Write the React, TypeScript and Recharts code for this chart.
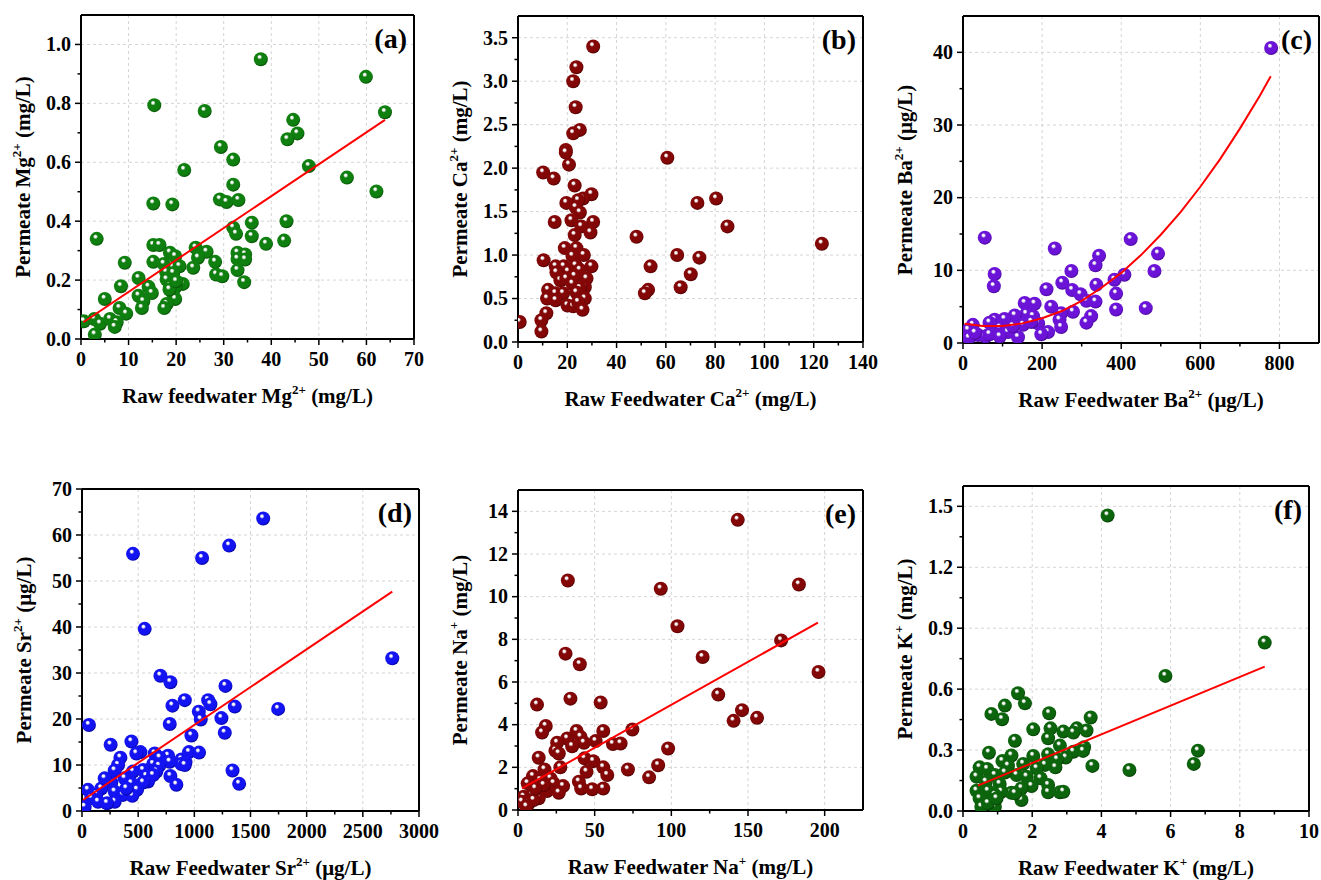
import React from 'react';
import { ScatterChart, Scatter, XAxis, YAxis, CartesianGrid, ReferenceLine } from 'recharts';

// (a) Mg2+
const mgFeed = [37.8, 59.9, 63.9, 15.4, 26.0, 44.6, 45.5, 43.4, 29.4, 32.0, 47.9, 21.7, 55.9, 32.0, 62.1, 29.2, 30.6, 33.1, 15.2, 19.2, 43.2, 35.9, 32.0, 32.6, 35.9, 38.9, 42.7, 3.3, 15.2, 16.5, 24.1, 26.4, 18.7, 19.8, 24.6, 32.9, 34.5, 32.9, 34.5, 28.2, 15.2, 9.2, 17.4, 23.6, 20.7, 17.9, 19.4, 32.9, 28.4, 29.7, 12.1, 18.0, 34.3, 21.4, 8.4, 14.2, 18.7, 19.9, 14.9, 12.1, 13.1, 19.3, 19.8, 5.0, 18.0, 17.5, 12.8, 8.1, 9.5, 0.6, 2.8, 4.0, 6.1, 7.5, 7.1, 2.9, 18.6, 20.0];
const mgPerm = [0.95, 0.89, 0.77, 0.794, 0.774, 0.744, 0.698, 0.678, 0.652, 0.609, 0.587, 0.574, 0.548, 0.524, 0.501, 0.474, 0.465, 0.472, 0.46, 0.457, 0.4, 0.395, 0.378, 0.357, 0.349, 0.323, 0.334, 0.34, 0.319, 0.319, 0.31, 0.296, 0.293, 0.281, 0.276, 0.293, 0.287, 0.272, 0.27, 0.262, 0.262, 0.259, 0.255, 0.242, 0.247, 0.227, 0.224, 0.234, 0.219, 0.213, 0.207, 0.202, 0.193, 0.187, 0.179, 0.177, 0.179, 0.177, 0.156, 0.147, 0.128, 0.156, 0.136, 0.136, 0.119, 0.105, 0.105, 0.105, 0.086, 0.06, 0.068, 0.052, 0.068, 0.057, 0.041, 0.015, 0.168, 0.196];
const mgFitX = [0.5, 63.9];
const mgFitY = [0.057, 0.744];

// (b) Ca2+
const caFeed = [30.5, 23.7, 22.4, 23.4, 25.1, 22.4, 19.4, 19.4, 20.7, 60.6, 10.2, 14.5, 23.0, 29.8, 26.4, 24.4, 80.4, 72.8, 19.6, 23.4, 25.1, 14.9, 21.7, 30.5, 25.7, 85.0, 29.4, 23.0, 48.1, 123.3, 19.0, 23.7, 22.1, 26.7, 64.6, 10.4, 73.6, 15.3, 18.6, 23.4, 29.8, 53.8, 20.3, 25.1, 15.6, 17.2, 19.6, 23.0, 27.8, 70.1, 22.1, 27.1, 25.1, 66.0, 12.2, 52.8, 51.5, 15.2, 18.3, 23.7, 11.8, 15.3, 27.1, 20.1, 22.4, 24.4, 26.2, 0.7, 11.5, 9.5, 9.5];
const caPerm = [3.4, 3.16, 3.0, 2.7, 2.44, 2.4, 2.21, 2.18, 2.04, 2.12, 1.95, 1.88, 1.8, 1.7, 1.65, 1.63, 1.65, 1.6, 1.6, 1.55, 1.49, 1.38, 1.4, 1.38, 1.33, 1.33, 1.26, 1.23, 1.21, 1.13, 1.08, 1.08, 0.99, 1.0, 1.0, 0.94, 0.97, 0.87, 0.87, 0.88, 0.87, 0.87, 0.81, 0.83, 0.8, 0.71, 0.73, 0.76, 0.73, 0.78, 0.67, 0.63, 0.62, 0.63, 0.6, 0.6, 0.56, 0.56, 0.56, 0.57, 0.5, 0.48, 0.5, 0.42, 0.41, 0.46, 0.37, 0.23, 0.33, 0.25, 0.12];

// (c) Ba2+
const baFeed = [779, 55, 424, 232, 493, 344, 335, 80, 274, 484, 408, 383, 251, 337, 78, 211, 276, 297, 387, 156, 181, 312, 335, 462, 223, 387, 278, 248, 160, 177, 324, 131, 80, 105, 25, 67, 244, 312, 190, 152, 93, 248, 215, 198, 114, 13, 38, 57, 15, 139, 67, 126, 93, 173, 30];
const baPerm = [40.6, 14.5, 14.3, 13.0, 12.3, 12.0, 10.7, 9.5, 9.9, 9.9, 9.4, 8.7, 8.3, 8.0, 7.8, 7.4, 7.3, 6.7, 6.8, 5.5, 5.4, 5.8, 5.7, 4.8, 5.0, 4.6, 4.3, 4.1, 4.0, 3.7, 3.7, 3.8, 3.2, 3.3, 2.5, 2.8, 3.2, 2.8, 2.7, 2.5, 2.1, 2.2, 1.5, 1.2, 1.5, 1.8, 1.1, 0.9, 0.7, 0.8, 1.2, 2.3, 0.9, 2.9, 1.4];
const baFitX = [4, 50, 100, 150, 200, 250, 300, 350, 400, 450, 500, 550, 600, 650, 700, 750, 778];
const baFitY = [2.65, 2.35, 2.35, 2.7, 3.4, 4.4, 5.8, 7.6, 9.65, 12.1, 14.9, 18.0, 21.5, 25.3, 29.5, 34.0, 36.7];

// (d) Sr2+
const srFeed = [1613, 1310, 454, 1069, 558, 2762, 698, 787, 1277, 915, 1123, 1143, 805, 1360, 1746, 1040, 1241, 1057, 62, 781, 1271, 974, 440, 255, 520, 484, 647, 953, 1042, 342, 766, 692, 885, 921, 781, 321, 633, 885, 915, 686, 1340, 291, 454, 544, 662, 573, 787, 380, 633, 261, 440, 588, 544, 840, 1399, 172, 53, 291, 490, 365, 448, 128, 83, 291, 143, 24, 223, 395, 202];
const srPerm = [63.6, 57.7, 55.9, 55.0, 39.6, 33.2, 29.4, 28.0, 27.2, 24.1, 24.1, 23.2, 22.9, 22.7, 22.2, 21.6, 20.2, 19.9, 18.7, 18.9, 17.0, 16.4, 15.1, 14.4, 12.8, 12.5, 12.5, 12.8, 12.7, 11.6, 12.0, 11.6, 11.2, 10.6, 10.7, 10.0, 10.2, 10.2, 10.0, 9.8, 8.8, 8.8, 8.6, 8.9, 8.6, 7.6, 7.6, 7.1, 7.8, 6.2, 6.0, 6.4, 6.2, 5.7, 5.9, 4.9, 4.6, 4.2, 4.6, 3.5, 3.3, 3.6, 2.8, 2.0, 2.0, 0.9, 1.7, 4.9, 7.1];
const srFitX = [9, 2762];
const srFitY = [2.4, 47.7];

// (e) Na+
const naFeed = [143.3, 32.5, 93.1, 183.2, 104.0, 171.6, 31.0, 120.4, 40.3, 196.0, 130.6, 34.2, 12.4, 53.9, 146.1, 155.9, 140.6, 18.1, 15.7, 74.6, 38.2, 55.6, 32.1, 25.5, 40.8, 43.0, 50.6, 35.3, 61.9, 66.9, 97.9, 24.4, 26.6, 13.5, 43.4, 49.1, 55.6, 91.4, 71.7, 27.6, 17.3, 44.7, 58.2, 85.5, 9.8, 21.2, 39.7, 14.6, 6.3, 23.3, 29.4, 41.2, 48.4, 55.6, 14.6, 19.0, 26.6, 9.2, 3.7, 13.5, 2.6, 7.0, 10.2, 16.8, 11.3, 5.5];
const naPerm = [13.6, 10.76, 10.37, 10.57, 8.61, 7.95, 7.33, 7.17, 6.83, 6.47, 5.41, 5.22, 4.94, 5.04, 4.68, 4.32, 4.18, 3.94, 3.63, 3.77, 3.7, 3.7, 3.35, 3.15, 3.43, 3.15, 3.23, 2.99, 3.09, 3.12, 2.88, 2.78, 2.65, 2.45, 2.42, 2.29, 2.0, 2.1, 1.9, 2.0, 1.9, 1.79, 1.64, 1.53, 1.59, 1.48, 1.33, 1.4, 1.25, 1.25, 1.12, 1.01, 0.97, 1.01, 1.04, 0.89, 0.81, 0.73, 0.62, 0.55, 0.39, 0.31, 0.47, 1.17, 1.01, 0.16];
const naFitX = [2.6, 195.6];
const naFitY = [1.01, 8.78];

// (f) K+
const kFeed = [4.18, 8.72, 5.85, 1.59, 1.79, 1.21, 0.82, 2.49, 1.13, 3.69, 2.03, 2.53, 2.9, 3.29, 3.19, 3.57, 1.5, 2.46, 2.8, 0.75, 3.5, 6.79, 1.4, 2.03, 2.46, 3.19, 3.47, 2.97, 1.14, 2.72, 6.67, 3.74, 4.81, 1.74, 1.3, 0.48, 0.7, 2.37, 2.67, 2.13, 0.39, 0.92, 1.55, 1.84, 1.21, 2.24, 0.66, 1.06, 1.98, 2.46, 0.39, 0.72, 1.11, 1.4, 1.69, 2.46, 2.8, 2.9, 0.48, 0.92, 1.69, 0.53, 0.92, 0.72, 0.97, 1.5];
const kPerm = [1.455, 0.829, 0.665, 0.58, 0.53, 0.519, 0.478, 0.481, 0.452, 0.46, 0.402, 0.407, 0.391, 0.407, 0.386, 0.396, 0.346, 0.358, 0.322, 0.287, 0.314, 0.297, 0.273, 0.271, 0.279, 0.292, 0.296, 0.263, 0.246, 0.254, 0.232, 0.222, 0.202, 0.232, 0.223, 0.215, 0.207, 0.227, 0.215, 0.21, 0.169, 0.177, 0.177, 0.169, 0.189, 0.161, 0.144, 0.133, 0.123, 0.128, 0.1, 0.099, 0.095, 0.09, 0.112, 0.092, 0.092, 0.095, 0.062, 0.079, 0.054, 0.021, 0.021, 0.038, 0.062, 0.087];
const kFitX = [0.43, 8.72];
const kFitY = [0.125, 0.711];

// tick values (major / minor)
const mgXTicks = [0, 10, 20, 30, 40, 50, 60, 70];
const mgXMinor = [5, 15, 25, 35, 45, 55, 65];
const mgYTicks = [0, 0.2, 0.4, 0.6, 0.8, 1.0];
const mgYMinor = [0.1, 0.3, 0.5, 0.7, 0.9];
const caXTicks = [0, 20, 40, 60, 80, 100, 120, 140];
const caXMinor = [10, 30, 50, 70, 90, 110, 130];
const caYTicks = [0, 0.5, 1.0, 1.5, 2.0, 2.5, 3.0, 3.5];
const caYMinor = [0.25, 0.75, 1.25, 1.75, 2.25, 2.75, 3.25];
const baXTicks = [0, 200, 400, 600, 800];
const baXMinor = [100, 300, 500, 700];
const baYTicks = [0, 10, 20, 30, 40];
const baYMinor = [5, 15, 25, 35];
const srXTicks = [0, 500, 1000, 1500, 2000, 2500, 3000];
const srXMinor = [250, 750, 1250, 1750, 2250, 2750];
const srYTicks = [0, 10, 20, 30, 40, 50, 60, 70];
const srYMinor = [5, 15, 25, 35, 45, 55, 65];
const naXTicks = [0, 50, 100, 150, 200];
const naXMinor = [25, 75, 125, 175];
const naYTicks = [0, 2, 4, 6, 8, 10, 12, 14];
const naYMinor = [1, 3, 5, 7, 9, 11, 13];
const kXTicks = [0, 2, 4, 6, 8, 10];
const kXMinor = [1, 3, 5, 7, 9];
const kYTicks = [0, 0.3, 0.6, 0.9, 1.2, 1.5];
const kYMinor = [0.15, 0.45, 0.75, 1.05, 1.35];

const pairs = (xs: number[], ys: number[]) => xs.map((x, i) => ({ x, y: ys[i] }));

const FONT = 'Liberation Serif, Times New Roman, serif';
const textStyle = { fontFamily: FONT, fontWeight: 700, fontSize: 20, fill: '#000' };

const isIn = (v: number, arr: number[]) => arr.some((t) => Math.abs(t - v) < 1e-9);

const XTick = ({ x, y, payload, major, fmt }: any) => {
  const big = isIn(payload.value, major);
  return (
    <g>
      <line x1={x} x2={x} y1={y} y2={y + (big ? 6 : 3.5)} stroke="#000" strokeWidth={1.5} />
      {big && (
        <text x={x} y={y + 13} dy="0.72em" textAnchor="middle" style={textStyle}>
          {fmt(payload.value)}
        </text>
      )}
    </g>
  );
};

const YTick = ({ x, y, payload, major, fmt }: any) => {
  const big = isIn(payload.value, major);
  return (
    <g>
      <line x1={x} x2={x - (big ? 6 : 3.5)} y1={y} y2={y} stroke="#000" strokeWidth={1.5} />
      {big && (
        <text x={x - 10} y={y} dy="0.34em" textAnchor="end" style={textStyle}>
          {fmt(payload.value)}
        </text>
      )}
    </g>
  );
};

const sphere = (grad: string) => (p: any) => (
  <circle cx={p.cx} cy={p.cy} r={7} fill={`url(#${grad})`} />
);

const palette: Record<string, [string, string]> = {
  sphA: ['#0f7f0f', '#034803'],
  sphB: ['#840707', '#480000'],
  sphC: ['#6b14d8', '#42068f'],
  sphD: ['#1414f2', '#000090'],
  sphF: ['#0c650c', '#023802'],
};

const fmt1 = (v: number) => v.toFixed(1);
const fmt0 = (v: number) => String(v);

const Sup = ({ children }: any) => (
  <sup style={{ fontSize: '0.62em', verticalAlign: 'top', position: 'relative', top: '-0.25em' }}>{children}</sup>
);

interface PanelProps {
  left: number; top: number; w: number; h: number; right?: number;
  data: { x: number; y: number }[];
  fit?: { x: number; y: number }[];
  xDomain: number[]; yDomain: number[];
  xTicks: number[]; xMinor: number[]; yTicks: number[]; yMinor: number[];
  xFmt: (v: number) => string; yFmt: (v: number) => string;
  grad: string; tag: string; xTitle: React.ReactNode; yTitle: React.ReactNode;
}

const Panel = (p: PanelProps) => {
  const rm = p.right ?? 30;
  const xAll = [...p.xTicks, ...p.xMinor].sort((a, b) => a - b);
  const yAll = [...p.yTicks, ...p.yMinor].sort((a, b) => a - b);
  return (
    <>
      <div style={{ position: 'absolute', left: p.left - 80, top: p.top - 10 }}>
        <ScatterChart width={80 + p.w + rm} height={10 + p.h + 50} margin={{ top: 10, right: rm, bottom: 0, left: 0 }}>
          <CartesianGrid stroke="#d4d4d4" strokeDasharray="3 3" verticalValues={p.xTicks} horizontalValues={p.yTicks} />
          <XAxis
            type="number" dataKey="x" domain={p.xDomain} ticks={xAll} interval={0} allowDataOverflow
            height={50} tickSize={0} tickMargin={0} tickLine={false}
            axisLine={{ stroke: '#000', strokeWidth: 2 }}
            tick={(tp: any) => <XTick {...tp} major={p.xTicks} fmt={p.xFmt} />}
          />
          <YAxis
            type="number" dataKey="y" domain={p.yDomain} ticks={yAll} interval={0} allowDataOverflow
            width={80} tickSize={0} tickMargin={0} tickLine={false}
            axisLine={{ stroke: '#000', strokeWidth: 2 }}
            tick={(tp: any) => <YTick {...tp} major={p.yTicks} fmt={p.yFmt} />}
          />
          <ReferenceLine y={p.yDomain[1]} stroke="#000" strokeWidth={2} />
          <ReferenceLine x={p.xDomain[1]} stroke="#000" strokeWidth={2} />
          <Scatter data={p.data} shape={sphere(p.grad)} isAnimationActive={false} />
          {p.fit && (
            <Scatter data={p.fit} line={{ stroke: '#ff0000', strokeWidth: 2 }} shape={() => <g />} isAnimationActive={false} />
          )}
        </ScatterChart>
      </div>
      <div style={{ position: 'absolute', left: p.left + p.w - 7, top: p.top + 10, transform: 'translateX(-100%)', fontFamily: FONT, fontWeight: 700, fontSize: 28, lineHeight: 1, whiteSpace: 'nowrap' }}>
        {p.tag}
      </div>
      <div style={{ position: 'absolute', left: p.left + p.w / 2, top: p.top + p.h + 57, transform: 'translate(-50%, -50%)', fontFamily: FONT, fontWeight: 700, fontSize: 21, lineHeight: 1, whiteSpace: 'nowrap' }}>
        {p.xTitle}
      </div>
      <div style={{ position: 'absolute', left: p.left - 58, top: p.top + p.h / 2, transform: 'translate(-50%, -50%) rotate(-90deg)', fontFamily: FONT, fontWeight: 700, fontSize: 21, lineHeight: 1, whiteSpace: 'nowrap' }}>
        {p.yTitle}
      </div>
    </>
  );
};

export default function App() {
  return (
    <div style={{ position: 'absolute', left: 0, top: 0, width: 1321, height: 880, background: '#fff', overflow: 'hidden' }}>
      <svg width={0} height={0} style={{ position: 'absolute' }}>
        <defs>
          {Object.entries(palette).map(([id, [base, dark]]) => (
            <radialGradient key={id} id={id} cx="0.45" cy="0.42" r="0.6" fx="0.4" fy="0.32">
              <stop offset="0" stopColor="#ffffff" />
              <stop offset="0.13" stopColor="#f4f4f4" />
              <stop offset="0.3" stopColor={base} />
              <stop offset="0.78" stopColor={base} />
              <stop offset="1" stopColor={dark} />
            </radialGradient>
          ))}
        </defs>
      </svg>

      <Panel left={81} top={15} w={333} h={324} data={pairs(mgFeed, mgPerm)} fit={pairs(mgFitX, mgFitY)}
        xDomain={[0, 70]} yDomain={[0, 1.1]} xTicks={mgXTicks} xMinor={mgXMinor} yTicks={mgYTicks} yMinor={mgYMinor}
        xFmt={fmt0} yFmt={fmt1} grad="sphA" tag="(a)"
        xTitle={<>Raw feedwater Mg<Sup>2+</Sup> (mg/L)</>} yTitle={<>Permeate Mg<Sup>2+</Sup> (mg/L)</>} />

      <Panel left={518} top={16} w={345} h={326} data={pairs(caFeed, caPerm)}
        xDomain={[0, 140]} yDomain={[0, 3.75]} xTicks={caXTicks} xMinor={caXMinor} yTicks={caYTicks} yMinor={caYMinor}
        xFmt={fmt0} yFmt={fmt1} grad="sphB" tag="(b)"
        xTitle={<>Raw Feedwater Ca<Sup>2+</Sup> (mg/L)</>} yTitle={<>Permeate Ca<Sup>2+</Sup> (mg/L)</>} />

      <Panel left={963} top={16} w={356} h={327} right={2} data={pairs(baFeed, baPerm)} fit={pairs(baFitX, baFitY)}
        xDomain={[0, 900]} yDomain={[0, 45]} xTicks={baXTicks} xMinor={baXMinor} yTicks={baYTicks} yMinor={baYMinor}
        xFmt={fmt0} yFmt={fmt0} grad="sphC" tag="(c)"
        xTitle={<>Raw Feedwater Ba<Sup>2+</Sup> (μg/L)</>} yTitle={<>Permeate Ba<Sup>2+</Sup> (μg/L)</>} />

      <Panel left={82} top={489} w={337} h={322} data={pairs(srFeed, srPerm)} fit={pairs(srFitX, srFitY)}
        xDomain={[0, 3000]} yDomain={[0, 70]} xTicks={srXTicks} xMinor={srXMinor} yTicks={srYTicks} yMinor={srYMinor}
        xFmt={fmt0} yFmt={fmt0} grad="sphD" tag="(d)"
        xTitle={<>Raw Feedwater Sr<Sup>2+</Sup> (μg/L)</>} yTitle={<>Permeate Sr<Sup>2+</Sup> (μg/L)</>} />

      <Panel left={518} top={490} w={345} h={320} data={pairs(naFeed, naPerm)} fit={pairs(naFitX, naFitY)}
        xDomain={[0, 225]} yDomain={[0, 15]} xTicks={naXTicks} xMinor={naXMinor} yTicks={naYTicks} yMinor={naYMinor}
        xFmt={fmt0} yFmt={fmt0} grad="sphB" tag="(e)"
        xTitle={<>Raw Feedwater Na<Sup>+</Sup> (mg/L)</>} yTitle={<>Permeate Na<Sup>+</Sup> (mg/L)</>} />

      <Panel left={963} top={486} w={346} h={325} right={12} data={pairs(kFeed, kPerm)} fit={pairs(kFitX, kFitY)}
        xDomain={[0, 10]} yDomain={[0, 1.6]} xTicks={kXTicks} xMinor={kXMinor} yTicks={kYTicks} yMinor={kYMinor}
        xFmt={fmt0} yFmt={fmt1} grad="sphF" tag="(f)"
        xTitle={<>Raw Feedwater K<Sup>+</Sup> (mg/L)</>} yTitle={<>Permeate K<Sup>+</Sup> (mg/L)</>} />
    </div>
  );
}
